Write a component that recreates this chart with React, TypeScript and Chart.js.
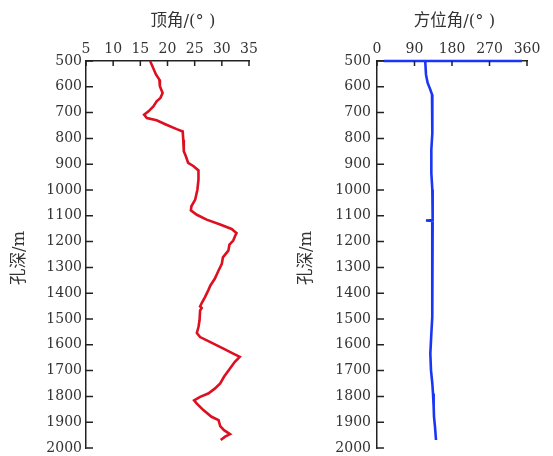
import React, { useEffect, useRef } from "react";
import { Chart, registerables } from "chart.js";

Chart.register(...registerables);

// 顶角 (inclination) profile
const inclDepth = [500,553,572,598,624,643,656,676,695,708,721,730,747,764,773,805,850,870,895,908,924,960,999,1037,1063,1079,1096,1115,1134,1151,1167,1180,1196,1212,1235,1261,1286,1312,1344,1370,1389,1415,1438,1451,1457,1467,1505,1531,1554,1570,1589,1615,1634,1647,1666,1692,1724,1750,1770,1789,1802,1815,1828,1853,1879,1892,1915,1931,1946,1956,1969];
const inclValue = [16.8,17.9,18.5,18.6,19.1,18.7,18.0,17.4,16.5,15.7,16.2,18.0,19.8,21.7,22.8,22.9,23.0,23.4,23.8,24.8,25.7,25.7,25.5,25.1,24.4,24.3,25.4,27.2,29.7,31.8,32.7,32.4,32.1,31.4,31.2,30.2,30.0,29.4,28.7,27.9,27.5,26.9,26.3,26.0,26.3,26.0,25.9,25.7,25.4,26.0,27.8,30.3,32.1,33.3,32.4,31.5,30.4,29.7,28.7,27.5,26.0,24.9,25.4,26.6,28.1,29.4,29.7,30.4,31.5,30.6,29.8];

// 方位角 (azimuth) profile
const aziDepth = [500,500,500,508,553,585,611,630,650,714,779,844,895,934,999,1063,1109,1116,1118,1120,1167,1200,1312,1402,1493,1557,1634,1699,1750,1789,1840,1879,1918,1969];
const aziValue = [348,16,116,116,117.6,121.6,128,132,133.6,132.8,132,130.4,129.6,131.2,132.8,133.6,133.6,133.6,117.6,133.6,133.6,132.8,132,132.8,132,130.4,128,129.6,132.8,134.4,136,136.8,139.2,141.6];

const depthMin = 500;
const depthMax = 2000;
const depthStep = 100;
const inclMin = 5;
const inclMax = 35;
const inclStep = 5;
const aziMin = 0;
const aziMax = 360;
const aziStep = 90;

const xTitleIncl = "顶角/(° )";
const xTitleAzi = "方位角/(° )";
const yTitle = "孔深/m";

const AXIS = "#222";
const TEXT = "#333";
const FONT_FAMILY = '"DejaVu Serif", "Noto Sans CJK SC", serif';

const decorPlugin = {
  id: "decor",
  afterDraw(chart: any, _args: any, opts: any) {
    const ctx = chart.ctx;
    const xs = chart.scales.x;
    const ys = chart.scales.y;
    const ca = chart.chartArea;
    ctx.save();
    ctx.strokeStyle = AXIS;
    ctx.lineWidth = 1.5;
    ctx.beginPath();
    xs.ticks.forEach((t: any) => {
      const px = xs.getPixelForValue(t.value);
      ctx.moveTo(px, ca.top);
      ctx.lineTo(px, ca.top + 5);
    });
    ys.ticks.forEach((t: any) => {
      const py = ys.getPixelForValue(t.value);
      ctx.moveTo(ca.left, py);
      ctx.lineTo(ca.left + 7, py);
    });
    ctx.stroke();
    ctx.fillStyle = TEXT;
    ctx.font = "16.5px " + FONT_FAMILY;
    ctx.textAlign = "center";
    ctx.textBaseline = "middle";
    ctx.fillText(opts.xTitle, opts.xTitleX, opts.xTitleY);
    ctx.translate(opts.yTitleX, opts.yTitleY);
    ctx.rotate(-Math.PI / 2);
    ctx.fillText(opts.yTitle, 0, 0);
    ctx.restore();
  },
};

function makeConfig(p: {
  depth: number[];
  values: number[];
  color: string;
  xMin: number;
  xMax: number;
  xStep: number;
  yAxisWidth: number;
  padRight: number;
  yTickPad: number;
  xTitle: string;
  xTitleX: number;
  yTitleX: number;
}): any {
  return {
    type: "scatter",
    data: {
      datasets: [
        {
          data: p.depth.map((d, i) => ({ x: p.values[i], y: d })),
          showLine: true,
          borderColor: p.color,
          backgroundColor: p.color,
          borderWidth: 2.6,
          pointRadius: 0,
          tension: 0,
          clip: false,
        },
      ],
    },
    options: {
      responsive: false,
      animation: false,
      events: [],
      layout: { padding: { left: 0, right: p.padRight, top: 0, bottom: 8 } },
      plugins: {
        legend: { display: false },
        tooltip: { enabled: false },
        decor: {
          xTitle: p.xTitle,
          xTitleX: p.xTitleX,
          xTitleY: 22,
          yTitle: yTitle,
          yTitleX: p.yTitleX,
          yTitleY: 258,
        },
      },
      scales: {
        x: {
          type: "linear",
          position: "top",
          min: p.xMin,
          max: p.xMax,
          grid: { display: false, drawTicks: false },
          border: { display: true, color: AXIS, width: 1.5 },
          ticks: {
            stepSize: p.xStep,
            padding: 3,
            color: TEXT,
            font: { family: FONT_FAMILY, size: 14 },
            maxRotation: 0,
            autoSkip: false,
            callback: (v: any) => String(v),
          },
          afterFit: (s: any) => {
            s.height = 61;
            s.paddingLeft = 0;
            s.paddingRight = 0;
          },
        },
        y: {
          type: "linear",
          position: "left",
          reverse: true,
          min: depthMin,
          max: depthMax,
          grid: { display: false, drawTicks: false },
          border: { display: true, color: AXIS, width: 1.5 },
          ticks: {
            stepSize: depthStep,
            padding: p.yTickPad,
            color: TEXT,
            font: { family: FONT_FAMILY, size: 14 },
            autoSkip: false,
            callback: (v: any) => String(v),
          },
          afterFit: (s: any) => {
            s.width = p.yAxisWidth;
            s.paddingTop = 0;
            s.paddingBottom = 0;
          },
        },
      },
    },
    plugins: [decorPlugin],
  };
}

export default function App() {
  const leftRef = useRef<HTMLCanvasElement | null>(null);
  const rightRef = useRef<HTMLCanvasElement | null>(null);

  useEffect(() => {
    const c1 = new Chart(
      leftRef.current as HTMLCanvasElement,
      makeConfig({
        depth: inclDepth,
        values: inclValue,
        color: "#dc1020",
        xMin: inclMin,
        xMax: inclMax,
        xStep: inclStep,
        yAxisWidth: 86,
        padRight: 27,
        yTickPad: 4,
        xTitle: xTitleIncl,
        xTitleX: 183,
        yTitleX: 20,
      })
    );
    const c2 = new Chart(
      rightRef.current as HTMLCanvasElement,
      makeConfig({
        depth: aziDepth,
        values: aziValue,
        color: "#1a36f5",
        xMin: aziMin,
        xMax: aziMax,
        xStep: aziStep,
        yAxisWidth: 101,
        padRight: 26,
        yTickPad: 6,
        xTitle: xTitleAzi,
        xTitleX: 178.5,
        yTitleX: 31,
      })
    );
    return () => {
      c1.destroy();
      c2.destroy();
    };
  }, []);

  return (
    <div
      style={{
        position: "absolute",
        left: 0,
        top: 0,
        width: 553,
        height: 456,
        background: "#fff",
      }}
    >
      <canvas
        ref={leftRef}
        width={276}
        height={456}
        style={{ position: "absolute", left: 0, top: 0, width: 276, height: 456 }}
      />
      <canvas
        ref={rightRef}
        width={277}
        height={456}
        style={{ position: "absolute", left: 276, top: 0, width: 277, height: 456 }}
      />
    </div>
  );
}
